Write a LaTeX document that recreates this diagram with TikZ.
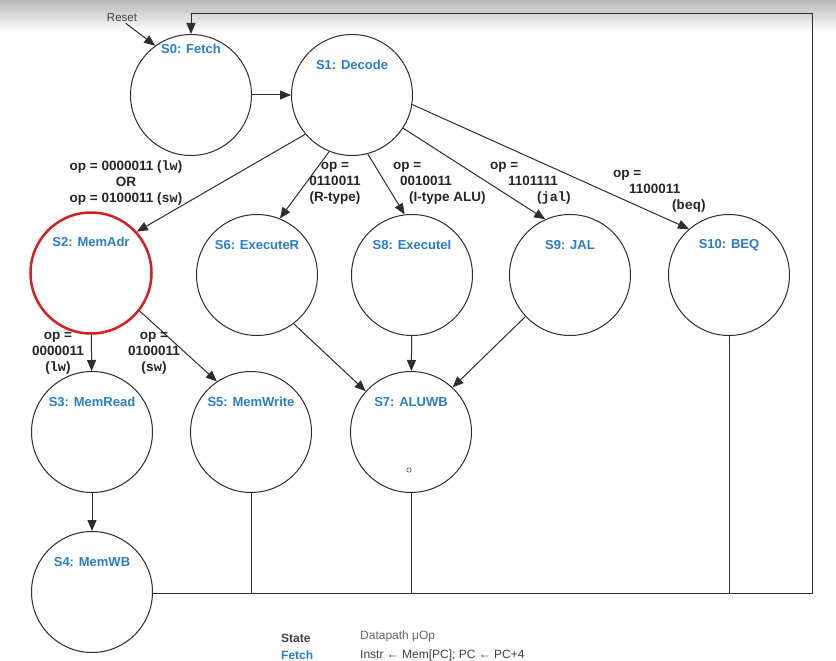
\documentclass[tikz,border=0pt]{standalone}
\usepackage{fontspec}
\setmainfont{Liberation Sans}
\newfontfamily\monofnt{Liberation Mono}
\usetikzlibrary{arrows.meta}
\definecolor{stateblue}{RGB}{40,125,205}
\definecolor{lineg}{RGB}{45,45,45}
\definecolor{markred}{RGB}{215,30,35}

\begin{document}
\begin{tikzpicture}[x=1pt,y=-1pt,
  state/.style={circle,draw=lineg,line width=1pt,minimum size=121pt,inner sep=0pt},
  statelbl/.style={anchor=center,text=stateblue,font=\bfseries\fontsize{13}{15}\selectfont,inner sep=0pt},
  oplbl/.style={align=center,text=black!85,font=\bfseries\fontsize{13.5}{15.8}\selectfont,inner sep=0pt},
  flow/.style={draw=lineg,line width=1pt,-{Triangle[length=11pt,width=9pt]}},
  wire/.style={draw=lineg,line width=1pt}]
\useasboundingbox (0,0) rectangle (836,661);
\fill[white] (0,0) rectangle (836,661);
\shade[top color=black!28,bottom color=white] (0,0) rectangle (836,32);

% states
\node[state,label={[statelbl,yshift=-15pt]90:{S0: Fetch}}] (s0) at (191,95) {};
\node[state,label={[statelbl,yshift=-31pt]90:{S1: Decode}}] (s1) at (352,95) {};
\node[state,draw=markred,line width=2.5pt,label={[statelbl,yshift=-31pt]90:{S2: MemAdr}}] (s2) at (91,273) {};
\node[state,label={[statelbl,yshift=-31pt]90:{S6: ExecuteR}}] (s6) at (257,275) {};
\node[state,label={[statelbl,yshift=-31pt]90:{S8: ExecuteI}}] (s8) at (412,275) {};
\node[state,label={[statelbl,yshift=-31pt]90:{S9: JAL}}] (s9) at (570,275) {};
\node[state,label={[statelbl,yshift=-31pt]90:{S10: BEQ}}] (s10) at (729,275) {};
\node[state,label={[statelbl,yshift=-31pt]90:{S3: MemRead}}] (s3) at (92,432) {};
\node[state,label={[statelbl,yshift=-31pt]90:{S5: MemWrite}}] (s5) at (251,432) {};
\node[state,label={[statelbl,yshift=-31pt]90:{S7: ALUWB}}] (s7) at (411,432) {};
\node[state,label={[statelbl,yshift=-31pt]90:{S4: MemWB}}] (s4) at (92,592) {};
\draw[blue!40!gray,line width=0.6pt] (409,470) circle (2.2);

% reset
\node[text=black!75,font=\fontsize{11.5}{13}\selectfont,inner sep=1pt] (reset) at (122,18) {Reset};
\draw[flow] (reset.-55) -- (s0.126);

% transitions
\draw[flow] (s0) -- (s1);
\draw[flow] (s1.-140) -- (s2.42);
\draw[flow] (s1.-112) -- (s6.68);
\draw[flow] (s1.-75) -- (s8.97);
\draw[flow] (s1.-33) -- (s9.114);
\draw[flow] (s1.-9) -- (s10.131);
\draw[flow] (s2) -- (s3);
\draw[flow] (s2.-38) -- (s5.124);
\draw[flow] (s3) -- (s4);
\draw[flow] (s6.-53) -- (s7.138);
\draw[flow] (s8) -- (s7);
\draw[flow] (s9.-137) -- (s7.47);

% back to fetch
\coordinate (rb) at (812,593);
\coordinate (rt) at (812,14);
\draw[wire] (s5.south) -- (s5.south |- rb);
\draw[wire] (s7.south) -- (s7.south |- rb);
\draw[wire] (s10.south) -- (s10.south |- rb);
\draw[flow] (s4.east |- rb) -- (rb) -- (rt) -| (s0.north);

% opcode labels
\node[oplbl] (lwsw) at (126,183) {op = 0000011 ({\monofnt lw})\\OR\\op = 0100011 ({\monofnt sw})};
\node[oplbl] (rtype) at (335,183) {op =\\0110011\\(R-type)};
\node[oplbl,align=left,anchor=west] (itype) at (393,183) {op =\\\hspace*{7pt}0010011\\\hspace*{16pt}(I-type ALU)};
\node[oplbl,align=left,anchor=west] (jtype) at (490,183) {op =\\\hspace*{18pt}1101111\\\hspace*{47pt}({\monofnt jal})};
\node[oplbl,align=left,anchor=west] (btype) at (613,191) {op =\\\hspace*{16pt}1100011\\\hspace*{59pt}({\monofnt beq})};
\node[oplbl] (lwop) at (58,353) {op =\\0000011\\({\monofnt lw})};
\node[oplbl] (swop) at (154,353) {op =\\0100011\\({\monofnt sw})};

% table heading
\node[anchor=west,inner sep=0pt,text=black!75,font=\bfseries\fontsize{12}{14}\selectfont] (stateh) at (281,638) {State};
\node[anchor=west,inner sep=0pt,text=black!60,font=\fontsize{12}{14}\selectfont] (uoph) at (360,636) {Datapath μOp};
\node[anchor=west,inner sep=0pt,text=stateblue,font=\bfseries\fontsize{12}{14}\selectfont] (fetchr) at (281,655) {Fetch};
\node[anchor=west,inner sep=0pt,text=black!75,font=\fontsize{12}{14}\selectfont] (fetchop) at (360,655) {Instr ← Mem[PC]; PC ← PC+4};
\end{tikzpicture}
\end{document}
